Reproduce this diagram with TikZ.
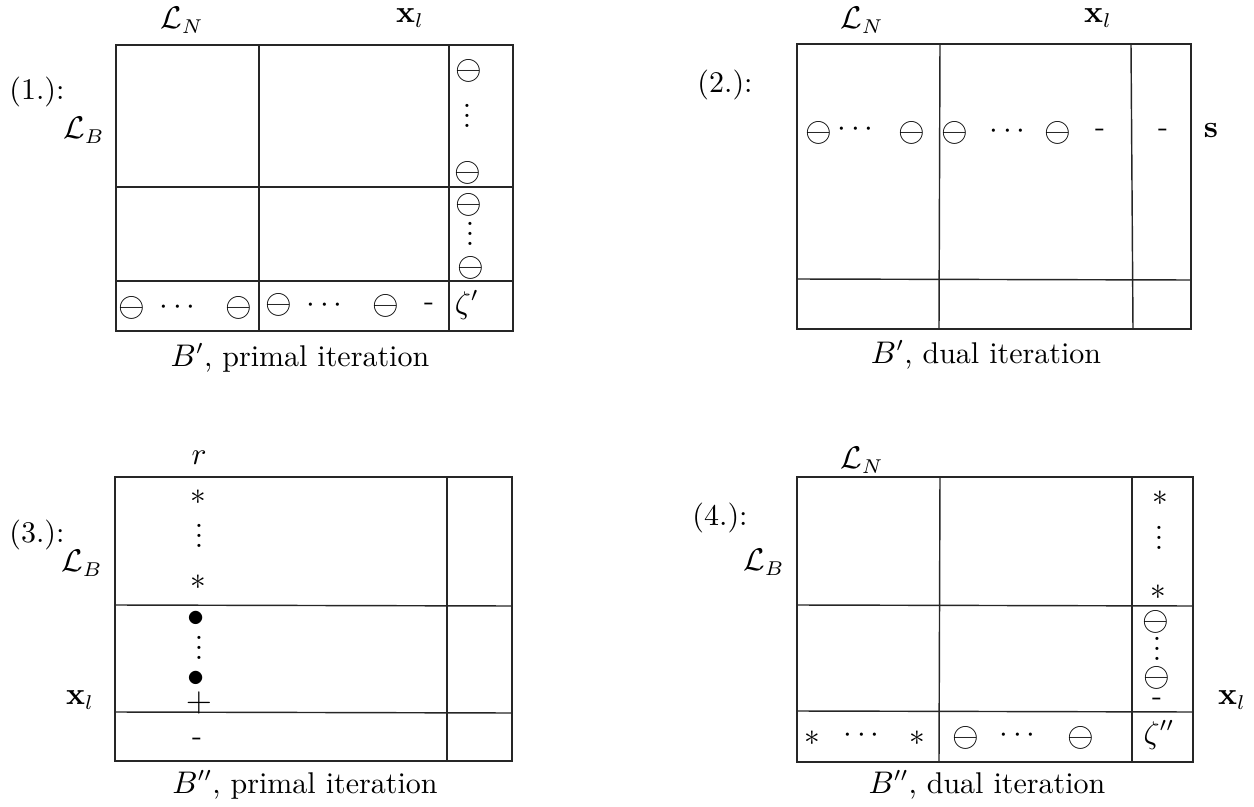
\documentclass[tikz,border=0pt]{standalone}
\usepackage{amsmath,amssymb}
\newcommand\vdt{\vbox{\baselineskip=3.5pt\lineskiplimit=-10pt\hbox{.}\hbox{.}\hbox{.}}}
\begin{document}
\begin{tikzpicture}[x=0.35pt,y=-0.35pt,
  every node/.style={font=\fontsize{10.5}{12.6}\selectfont, inner sep=0pt},
  gridline/.style={line width=0.5pt, draw=black!85},
  om/.style={font=\fontsize{12}{14}\selectfont}]
\useasboundingbox (0,0) rectangle (1254,807);

% ---------------- Panel 1 ----------------
\draw[gridline] (116,45) rectangle (513,331);
\draw[gridline] (259,45) -- (259,331);
\draw[gridline] (449,45) -- (449,331);
\draw[gridline] (116,187) -- (513,187);
\draw[gridline] (116,281) -- (513,281);
\node (p1lab) at (37,92) {(1.):};
\node (p1LB) at (84,130) {$\mathcal{L}_B$};
\node (p1LN) at (182,20) {$\mathcal{L}_N$};
\node (p1xl) at (410,18) {$\mathbf{x}_l$};
\node[om] (p1a) at (469,71) {$\ominus$};
\node (p1b) at (467,116) {\vdt};
\node[om] (p1c) at (468,173) {$\ominus$};
\node[om] (p1d) at (469,205) {$\ominus$};
\node (p1e) at (470,234) {\vdt};
\node[om] (p1f) at (471,268) {$\ominus$};
\node[om] (p1g) at (132,308) {$\ominus$};
\node (p1h) at (180,308) {$\cdots$};
\node[om] (p1i) at (239,308) {$\ominus$};
\node[om] (p1j) at (279,305) {$\ominus$};
\node (p1k) at (327,306) {$\cdots$};
\node[om] (p1l) at (386,306) {$\ominus$};
\node (p1m) at (429,307) {-};
\node (p1n) at (467,305) {$\zeta'$};
\node (p1cap) at (300,358) {$B'$, primal iteration};

% ---------------- Panel 2 ----------------
\draw[gridline] (797,44) rectangle (1191,329);
\draw[gridline] (940,44) -- (939,329);
\draw[gridline] (1131,44) -- (1133,329);
\draw[gridline] (797,279) -- (1191,280);
\node (p2lab) at (725,85) {(2.):};
\node (p2LN) at (862,20) {$\mathcal{L}_N$};
\node (p2xl) at (1098,18) {$\mathbf{x}_l$};
\node (p2s) at (1211,131) {$\mathbf{s}$};
\node[om] (p2a) at (819,133) {$\ominus$};
\node (p2b) at (858,130) {$\cdots$};
\node[om] (p2c) at (912,133) {$\ominus$};
\node[om] (p2d) at (955,133) {$\ominus$};
\node (p2e) at (1010,132) {$\cdots$};
\node[om] (p2f) at (1058,133) {$\ominus$};
\node (p2g) at (1100,133) {-};
\node (p2h) at (1163,133) {-};
\node (p2cap) at (986,355) {$B'$, dual iteration};

% ---------------- Panel 3 ----------------
\draw[gridline] (115,477) rectangle (512,761);
\draw[gridline] (447,477) -- (447,761);
\draw[gridline] (115,605) -- (512,606);
\draw[gridline] (115,712) -- (512,713);
\node (p3lab) at (37,535) {(3.):};
\node (p3LB) at (82,563) {$\mathcal{L}_B$};
\node (p3xl) at (80,700) {$\mathbf{x}_l$};
\node (p3r) at (199,458) {$r$};
\node (p3a) at (198,497) {$\ast$};
\node (p3b) at (199,536) {\vdt};
\node (p3c) at (198,582) {$\ast$};
\node[om] (p3d) at (196,619) {$\bullet$};
\node (p3e) at (199,648) {\vdt};
\node[om] (p3f) at (196,679) {$\bullet$};
\node[om] (p3g) at (199,703) {$+$};
\node (p3h) at (197,742) {-};
\node (p3cap) at (305,785) {$B''$, primal iteration};

% ---------------- Panel 4 ----------------
\draw[gridline] (797,477) rectangle (1193,762);
\draw[gridline] (940,477) -- (939,762);
\draw[gridline] (1132,477) -- (1132,762);
\draw[gridline] (797,605) -- (1193,606);
\draw[gridline] (797,711) -- (1193,712);
\node (p4lab) at (720,518) {(4.):};
\node (p4LB) at (764,562) {$\mathcal{L}_B$};
\node (p4LN) at (862,460) {$\mathcal{L}_N$};
\node (p4xl) at (1232,700) {$\mathbf{x}_l$};
\node (p4a) at (1160,498) {$\ast$};
\node (p4b) at (1159,538) {\vdt};
\node (p4c) at (1158,592) {$\ast$};
\node[om] (p4d) at (1156,622) {$\ominus$};
\node (p4e) at (1157,649) {\vdt};
\node[om] (p4f) at (1157,678) {$\ominus$};
\node (p4g) at (1157,702) {-};
\node (p4h) at (812,738) {$\ast$};
\node (p4i) at (864,736) {$\cdots$};
\node (p4j) at (917,738) {$\ast$};
\node[om] (p4k) at (966,738) {$\ominus$};
\node (p4l) at (1020,736) {$\cdots$};
\node[om] (p4m) at (1081,738) {$\ominus$};
\node (p4n) at (1159,735) {$\zeta''$};
\node (p4cap) at (987,785) {$B''$, dual iteration};
\end{tikzpicture}
\end{document}
